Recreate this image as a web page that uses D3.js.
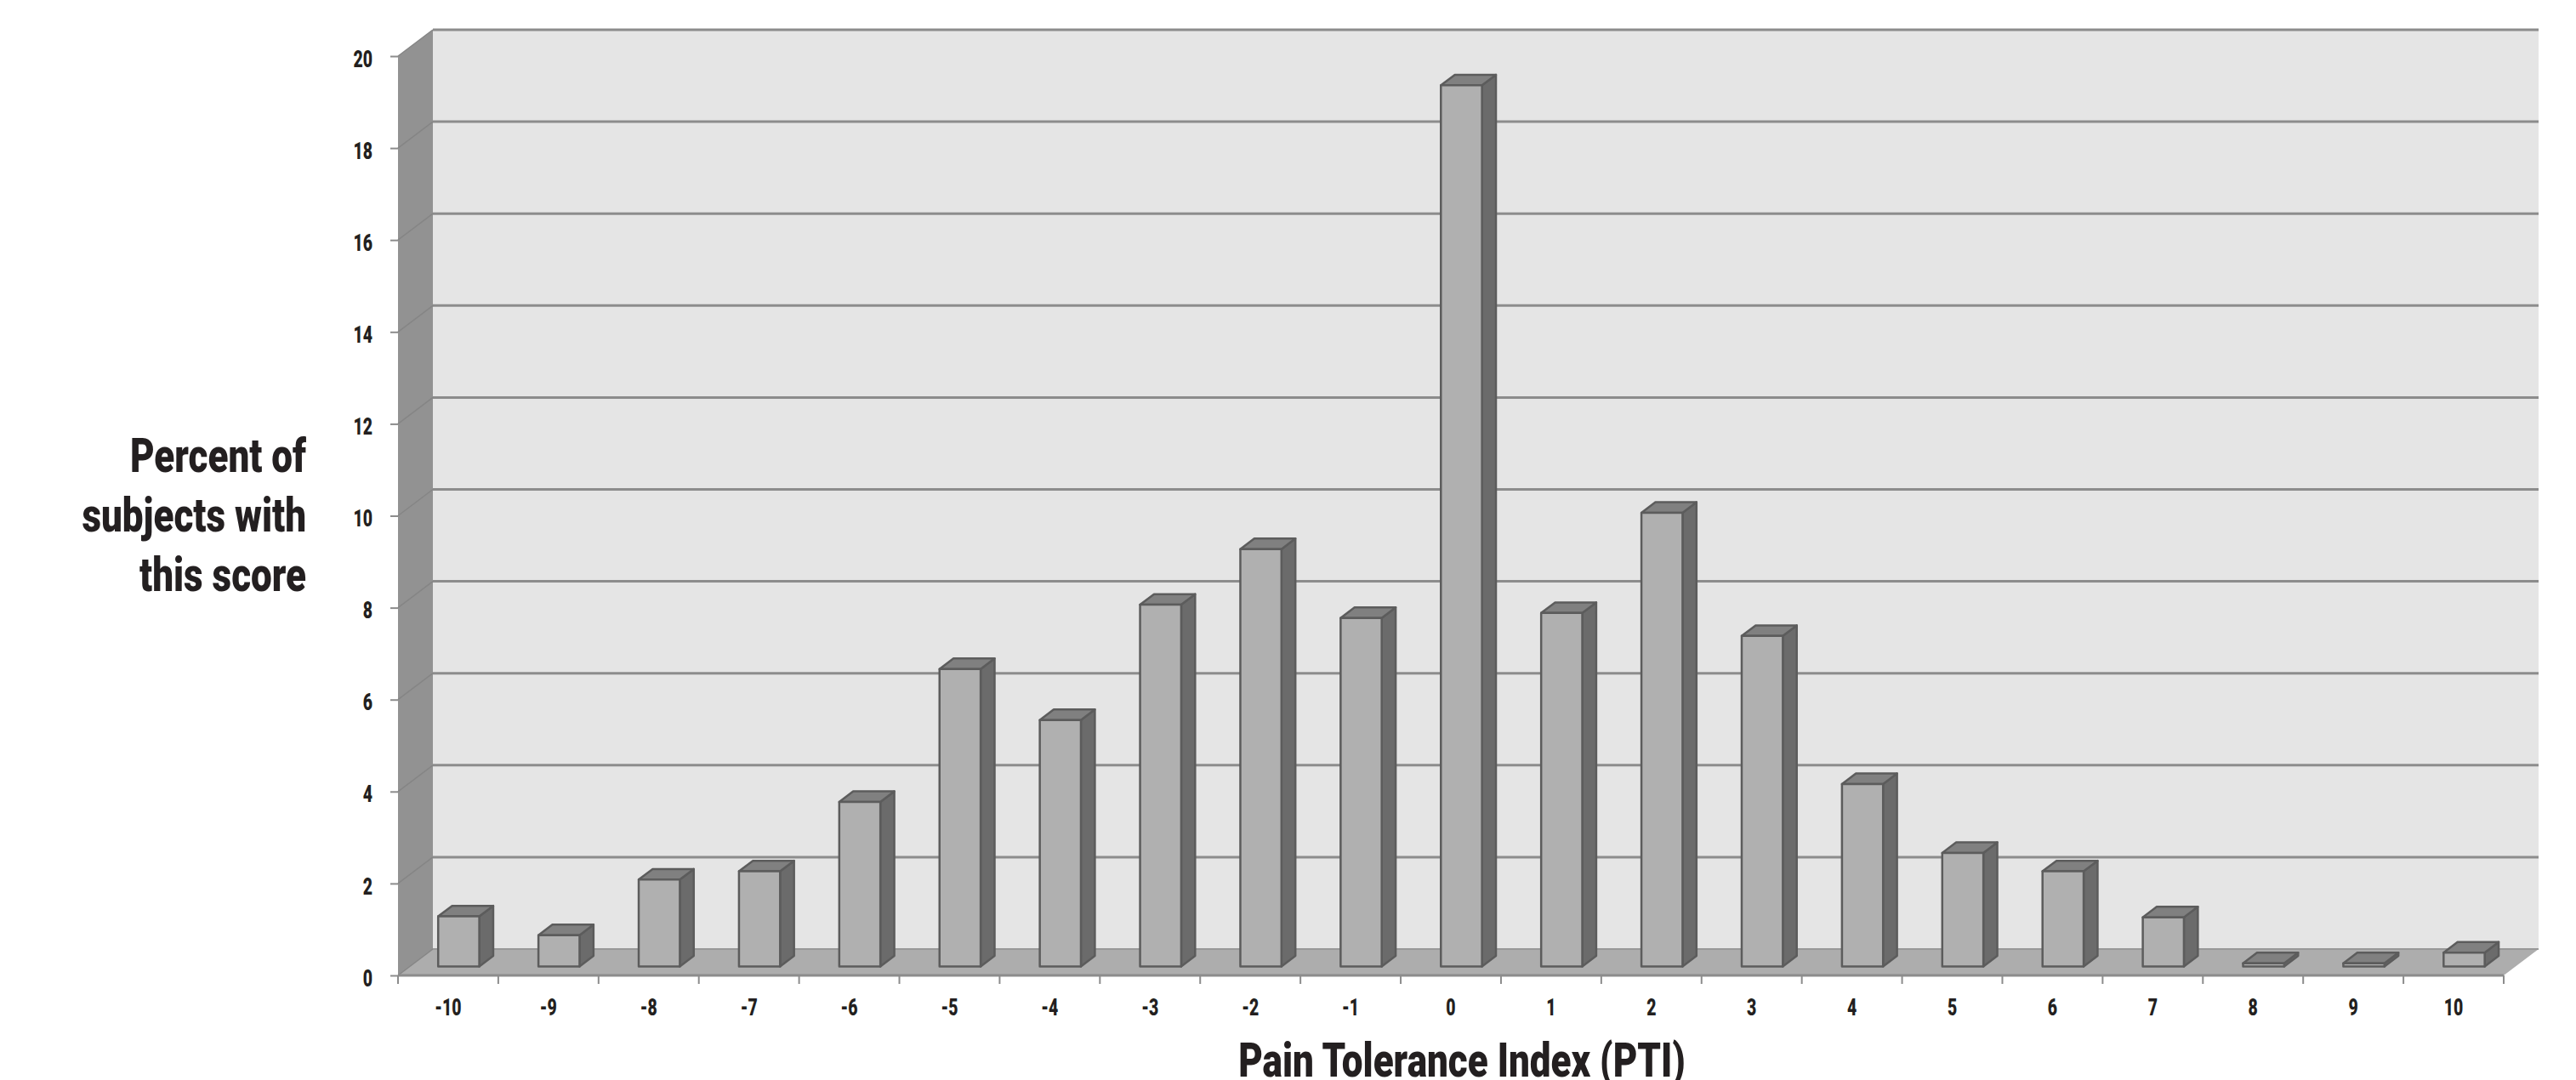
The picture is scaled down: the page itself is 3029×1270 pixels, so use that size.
<!DOCTYPE html>
<html>
<head>
<meta charset="utf-8">
<script src="https://cdn.jsdelivr.net/npm/d3@7"></script>
<style>
  body { margin: 0; background: #fff; }
  text { font-family: Roboto, "Liberation Sans", sans-serif; font-weight: 900; fill: #231f20; }
</style>
</head>
<body>
<script>
// values
const scores = [-10,-9,-8,-7,-6,-5,-4,-3,-2,-1,0,1,2,3,4,5,6,7,8,9,10];
const percents = [1.09,0.68,1.89,2.07,3.58,6.47,5.36,7.87,9.08,7.58,19.17,7.69,9.87,7.19,3.97,2.47,2.07,1.07,0.07,0.07,0.3];
const percentTicks = [0,2,4,6,8,10,12,14,16,18,20];
const yTitleLines = ['Percent of','subjects with','this score'];
const xTitle = 'Pain Tolerance Index (PTI)';

const svg = d3.select('body').append('svg')
  .attr('width', 3029)
  .attr('height', 1270);

// front plane of the chart
const x = d3.scaleBand().domain(scores).range([468, 2944]);
const y = d3.scaleLinear().domain([0, 20]).range([1147, 66]);
// oblique depth: 0 = front of floor, 1 = back wall
const depthX = d3.scaleLinear().domain([0, 1]).range([0, 41]);
const depthY = d3.scaleLinear().domain([0, 1]).range([0, -31]);

// bars stand between these depths
const barNear = 0.34, barFar = 0.74;
const barWidth = x.bandwidth() * 0.41;

// no condensed font installed, so squeeze the text sideways
const tickSqueeze = 0.72, titleSqueeze = 0.8;

const pt = (px, v, d) => [px + depthX(d), y(v) + depthY(d)];
const poly = pts => 'M' + pts.map(p => p.join(',')).join('L') + 'Z';
const x0 = x.range()[0], x1 = x.range()[1];

// walls and floor
svg.append('path').attr('fill', '#e5e5e5')
  .attr('d', poly([pt(x0,0,1), pt(x0,20,1), pt(x1,20,1), pt(x1,0,1)]));
svg.append('path').attr('fill', '#929292')
  .attr('d', poly([pt(x0,0,0), pt(x0,20,0), pt(x0,20,1), pt(x0,0,1)]));
svg.append('path').attr('fill', '#adadad')
  .attr('d', poly([pt(x0,0,0), pt(x0,0,1), pt(x1,0,1), pt(x1,0,0)]));

// gridlines on back wall, fainter on the side wall
svg.append('g').selectAll('line').data(percentTicks.filter(d => d > 0))
  .join('line')
  .attr('x1', pt(x0,0,1)[0]).attr('x2', pt(x1,0,1)[0])
  .attr('y1', d => pt(x0,d,1)[1]).attr('y2', d => pt(x0,d,1)[1])
  .attr('stroke', '#8c8c8c').attr('stroke-width', 3);
svg.append('g').selectAll('line').data(percentTicks)
  .join('line')
  .attr('x1', pt(x0,0,0)[0]).attr('x2', pt(x0,0,1)[0])
  .attr('y1', d => pt(x0,d,0)[1]).attr('y2', d => pt(x0,d,1)[1])
  .attr('stroke', '#858585').attr('stroke-width', 1.5);
// floor edges
svg.append('line')
  .attr('x1', x0).attr('x2', x1).attr('y1', y(0)).attr('y2', y(0))
  .attr('stroke', '#8c8c8c').attr('stroke-width', 3);
svg.append('line')
  .attr('x1', pt(x0,0,1)[0]).attr('x2', pt(x1,0,1)[0])
  .attr('y1', pt(x0,0,1)[1]).attr('y2', pt(x0,0,1)[1])
  .attr('stroke', '#999').attr('stroke-width', 2);

// bars
const barData = scores.map((s, i) => ({ score: s, value: percents[i] }));
const bars = svg.append('g').selectAll('g').data(barData).join('g')
  .attr('stroke', '#5c5c5c').attr('stroke-width', 2.5).attr('stroke-linejoin', 'round');
const left = d => x(d.score) + (x.bandwidth() - barWidth) / 2 - 1.5;
bars.append('path').attr('fill', '#6b6b6b')
  .attr('d', d => { const r = left(d) + barWidth;
    return poly([pt(r,0,barNear), pt(r,d.value,barNear), pt(r,d.value,barFar), pt(r,0,barFar)]); });
bars.append('path').attr('fill', '#808080')
  .attr('d', d => { const l = left(d), r = l + barWidth;
    return poly([pt(l,d.value,barNear), pt(l,d.value,barFar), pt(r,d.value,barFar), pt(r,d.value,barNear)]); });
bars.append('path').attr('fill', '#b0b0b0')
  .attr('d', d => { const l = left(d), r = l + barWidth;
    return poly([pt(l,0,barNear), pt(l,d.value,barNear), pt(r,d.value,barNear), pt(r,0,barNear)]); });

// axes
const yAxis = svg.append('g')
  .attr('transform', `translate(${x0},0)`)
  .call(d3.axisLeft(y).tickValues(percentTicks).tickSize(9));
yAxis.select('.domain').remove();
yAxis.selectAll('.tick line').attr('stroke', '#8c8c8c').attr('stroke-width', 2);
yAxis.selectAll('text')
  .style('font-size', '27px')
  .attr('x', 0).attr('dy', '0.45em')
  .attr('transform', `translate(-30,0) scale(${tickSqueeze},1)`);

const xAxis = svg.append('g')
  .attr('transform', `translate(0,${y(0)})`)
  .call(d3.axisBottom(x).tickSize(0).tickPadding(28));
xAxis.select('.domain').remove();
xAxis.selectAll('text')
  .style('font-size', '27px')
  .attr('transform', `scale(${tickSqueeze},1)`);
// tick marks sit on the band edges
svg.append('g').selectAll('line')
  .data(scores.map(s => x(s)).concat([x1]))
  .join('line')
  .attr('x1', d => d).attr('x2', d => d)
  .attr('y1', y(0)).attr('y2', y(0) + 10)
  .attr('stroke', '#8c8c8c').attr('stroke-width', 2);

// titles
svg.append('g').selectAll('text').data(yTitleLines).join('text')
  .attr('transform', (d, i) => `translate(360,${555 + i * 70}) scale(${titleSqueeze},1)`)
  .attr('text-anchor', 'end')
  .style('font-size', '55px')
  .text(d => d);
svg.append('text')
  .attr('transform', `translate(1719,1266) scale(${titleSqueeze},1)`)
  .attr('text-anchor', 'middle')
  .style('font-size', '55px')
  .text(xTitle);
</script>
</body>
</html>
